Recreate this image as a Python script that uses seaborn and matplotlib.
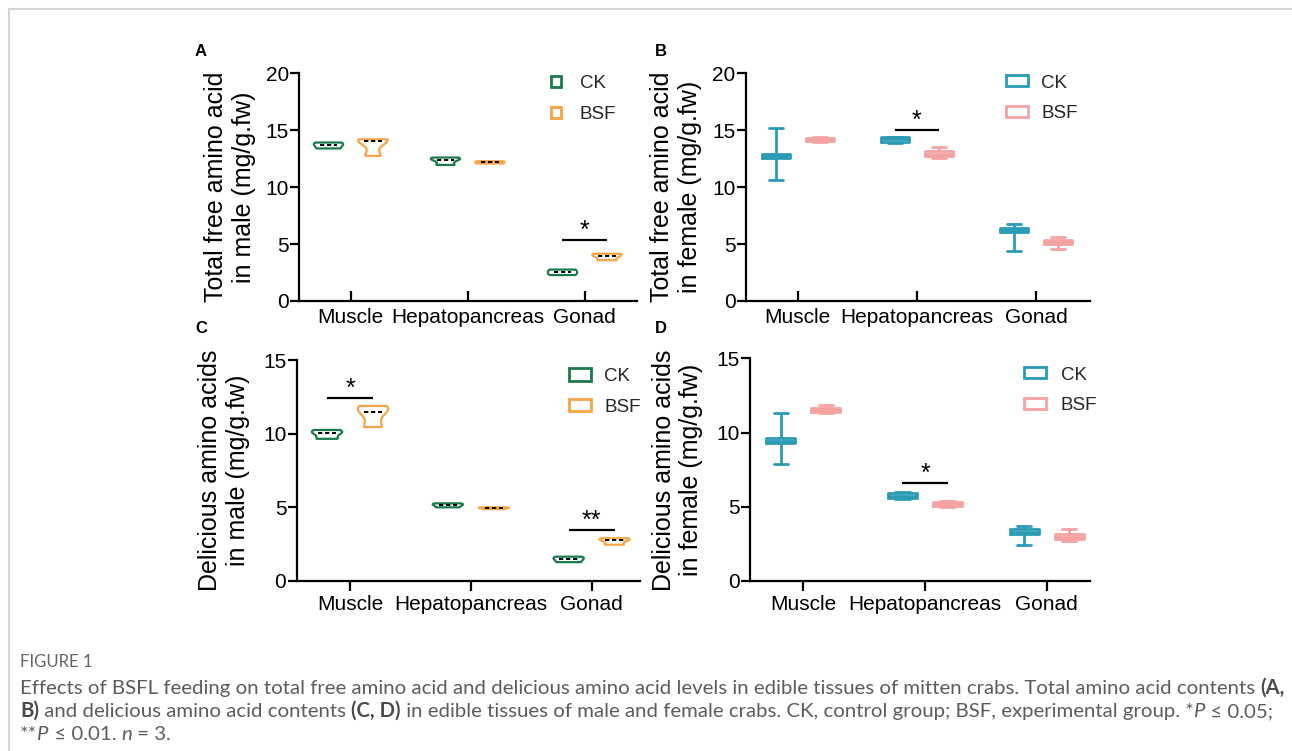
import numpy as np
import pandas as pd
import matplotlib
matplotlib.use("Agg")
import matplotlib.pyplot as plt
import seaborn as sns
from matplotlib.patches import Patch
from matplotlib.lines import Line2D

# ---------------- data ----------------
tissues = ["Muscle", "Hepatopancreas", "Gonad"]
groups = ["CK", "BSF"]

# A: total free amino acid, male (3 replicates per tissue)
male_total_ck = [[13.40, 13.68, 13.92], [11.95, 12.40, 12.60], [2.28, 2.52, 2.76]]
male_total_bsf = [[12.75, 14.05, 14.20], [12.08, 12.18, 12.28], [3.58, 3.95, 4.15]]

# C: delicious amino acids, male
male_del_ck = [[9.65, 10.02, 10.25], [5.00, 5.15, 5.27], [1.28, 1.48, 1.65]]
male_del_bsf = [[10.45, 11.50, 11.88], [4.88, 4.95, 5.00], [2.46, 2.76, 2.90]]

# B: total free amino acid, female (min, q1, median, q3, max)
female_total_ck = [[10.65, 12.58, 12.74, 12.92, 15.18],
                   [13.85, 14.00, 14.20, 14.38, 14.42],
                   [4.42, 6.04, 6.24, 6.44, 6.79]]
female_total_bsf = [[14.00, 14.05, 14.20, 14.36, 14.40],
                    [12.55, 12.72, 12.94, 13.16, 13.50],
                    [4.55, 5.02, 5.21, 5.40, 5.65]]

# D: delicious amino acids, female (min, q1, median, q3, max)
female_del_ck = [[7.86, 9.32, 9.45, 9.61, 11.30],
                 [5.52, 5.57, 5.75, 5.90, 5.97],
                 [2.40, 3.17, 3.32, 3.48, 3.70]]
female_del_bsf = [[11.30, 11.36, 11.52, 11.68, 11.83],
                  [5.01, 5.05, 5.21, 5.34, 5.39],
                  [2.69, 2.85, 2.99, 3.14, 3.48]]

# significance marks: (tissue index, bar height, label)
sig_A = [(2, 5.40, "*")]
sig_B = [(1, 15.00, "*")]
sig_C = [(0, 12.40, "*"), (2, 3.46, "**")]
sig_D = [(1, 6.62, "*")]

ylabels = {
    "A": "Total free amino acid\nin male (mg/g.fw)",
    "B": "Total free amino acid\nin female (mg/g.fw)",
    "C": "Delicious amino acids\nin male (mg/g.fw)",
    "D": "Delicious amino acids\nin female (mg/g.fw)",
}

pal_male = {"CK": "#1b7a4d", "BSF": "#f7a443"}
pal_female = {"CK": "#2a9bb5", "BSF": "#f4a2a2"}

# ---------------- style ----------------
sns.set_style("ticks")
plt.rcParams["font.family"] = ["Liberation Sans", "DejaVu Sans"]

W, H = 1292, 751
fig = plt.figure(figsize=(W / 100, H / 100), dpi=100)


def long_df(ck, bsf):
    rows = []
    for g, vals in zip(groups, [ck, bsf]):
        for t, reps in zip(tissues, vals):
            for v in reps:
                rows.append((t, g, v))
    return pd.DataFrame(rows, columns=["tissue", "group", "value"])


def add_ax(left, top, right, bottom, tick0, spacing):
    ax = fig.add_axes([left / W, 1 - bottom / H, (right - left) / W, (bottom - top) / H])
    return ax, ((left - tick0) / spacing, (right - tick0) / spacing)


def style_ax(ax, xlim, ymax, xdir, xpad):
    ax.set_xlim(*xlim)
    ax.set_ylim(0, ymax)
    ax.set_yticks(np.arange(0, ymax + 1, 5))
    ax.set_xlabel("")
    ax.set_ylabel("")
    for s in ["top", "right"]:
        ax.spines[s].set_visible(False)
    for s in ["left", "bottom"]:
        ax.spines[s].set_linewidth(1.6)
        ax.spines[s].set_color("black")
    ax.tick_params(axis="y", direction="out", length=6.5, width=1.6, labelsize=15,
                   pad=1, colors="black")
    ax.tick_params(axis="x", direction=xdir, length=7, width=1.6, labelsize=15,
                   pad=xpad, colors="black")
    ax.patch.set_alpha(0)


def add_sig(ax, marks, off):
    for i, y, lab in marks:
        ax.plot([i - off, i + off], [y, y], color="black", lw=1.6, solid_capstyle="butt")
        ax.annotate(lab, xy=(i, y), xytext=(0, 1.5), textcoords="offset points",
                    ha="center", va="baseline", fontsize=18, color="black")


def add_legend(ax, pal, x, y, hl, hh, pad):
    handles = [Patch(facecolor="white", edgecolor=pal[g], linewidth=2.0) for g in groups]
    ax.legend(handles, groups, loc="upper left", bbox_to_anchor=(x / W, 1 - y / H),
              bbox_transform=fig.transFigure, frameon=False, fontsize=13.5,
              handlelength=hl, handleheight=hh, handletextpad=pad,
              labelspacing=0.72, borderpad=0, borderaxespad=0)


def violin_panel(ax, df, pal):
    sns.violinplot(data=df, x="tissue", y="value", hue="group", order=tissues,
                   hue_order=groups, palette=pal, fill=False, inner=None, cut=0,
                   density_norm="width", width=0.76, gap=0.34, linewidth=1.6,
                   bw_adjust=0.7, legend=False, ax=ax)
    sns.boxplot(data=df, x="tissue", y="value", hue="group", order=tissues,
                hue_order=groups, palette=pal, width=0.76, gap=0.6, whis=0,
                showbox=False, showcaps=False, showfliers=False,
                medianprops=dict(color="black", linestyle=(0, (2.2, 1.4)), linewidth=1.4),
                whiskerprops=dict(visible=False), legend=False, ax=ax)


def box_panel(ax, df, pal):
    sns.boxplot(data=df, x="tissue", y="value", hue="group", order=tissues,
                hue_order=groups, palette=pal, fill=False, whis=(0, 100),
                width=0.74, gap=0.36, linewidth=2.0, showfliers=False,
                legend=False, ax=ax)


# ---------------- panels ----------------
axA, xlA = add_ax(299.3, 73.3, 636.7, 301.0, 350.7, 117.0)
violin_panel(axA, long_df(male_total_ck, male_total_bsf), pal_male)
style_ax(axA, xlA, 20, "in", 5)
add_sig(axA, sig_A, 0.19)
add_legend(axA, pal_male, 551, 75.5, 0.53, 0.53, 1.0)

axB, xlB = add_ax(746.0, 73.3, 1090.0, 301.0, 797.7, 119.2)
box_panel(axB, long_df(female_total_ck, female_total_bsf), pal_female)
style_ax(axB, xlB, 20, "in", 5)
add_sig(axB, sig_B, 0.185)
add_legend(axB, pal_female, 1006, 74.5, 1.17, 0.53, 0.7)

axC, xlC = add_ax(296.7, 360.0, 640.0, 581.0, 350.0, 120.8)
violin_panel(axC, long_df(male_del_ck, male_del_bsf), pal_male)
style_ax(axC, xlC, 15, "out", 3)
add_sig(axC, sig_C, 0.19)
add_legend(axC, pal_male, 569, 368.0, 1.17, 0.64, 0.7)

axD, xlD = add_ax(750.0, 358.3, 1090.0, 581.0, 803.3, 121.7)
box_panel(axD, long_df(female_del_ck, female_del_bsf), pal_female)
style_ax(axD, xlD, 15, "out", 3)
add_sig(axD, sig_D, 0.185)
add_legend(axD, pal_female, 1024, 366.5, 1.17, 0.53, 0.8)

# y labels
for key, (x, y) in {"A": (230, 187), "B": (676, 187), "C": (224, 470), "D": (677.5, 470)}.items():
    fig.text(x / W, 1 - y / H, ylabels[key], rotation=90, ha="center", va="center",
             multialignment="center", fontsize=18, linespacing=1.2, color="black")

# panel letters
for key, (x, y) in {"A": (201, 52), "B": (661, 51), "C": (201, 328), "D": (661, 328)}.items():
    fig.text(x / W, 1 - y / H, key, ha="center", va="center", fontsize=12,
             fontweight="bold", color="black")

# frame lines
fig.add_artist(Line2D([9 / W, 1], [1 - 9 / H, 1 - 9 / H], color="#d6d6d6", lw=1.5,
                      transform=fig.transFigure))
fig.add_artist(Line2D([9 / W, 9 / W], [0, 1 - 9 / H], color="#d6d6d6", lw=1.5,
                      transform=fig.transFigure))

# ---------------- caption ----------------
renderer = fig.canvas.get_renderer()
CAP_FONT = ["Lato", "DejaVu Sans"]
normal_c, bold_c = "#5c5c5c", "#4a4a4a"


def kw_for(kind, size):
    return dict(fontsize=size, family=CAP_FONT,
                color=bold_c if kind == "b" else normal_c,
                fontweight="bold" if kind == "b" else "normal",
                fontstyle="italic" if kind == "i" else "normal")


def measure(s, kw):
    t = fig.text(0, 0, s + "|", **kw)
    w1 = t.get_window_extent(renderer).width
    t.remove()
    t = fig.text(0, 0, "|", **kw)
    w2 = t.get_window_extent(renderer).width
    t.remove()
    return w1 - w2


def draw_line(x, y, parts, size):
    for s, kind in parts:
        kw = kw_for(kind, size)
        fig.text(x / W, 1 - y / H, s, ha="left", va="baseline", **kw)
        x += measure(s, kw)


line1 = [("Effects of BSFL feeding on total free amino acid and delicious amino acid levels "
          "in edible tissues of mitten crabs. Total amino acid contents ", "n"), ("(A,", "b")]
line2 = [("B)", "b"), (" and delicious amino acid contents ", "n"), ("(C, D)", "b"),
         (" in edible tissues of male and female crabs. CK, control group; BSF, "
          "experimental group. *", "n"), ("P", "i"), (" \u2264 0.05;", "n")]
line3 = [("**", "n"), ("P", "i"), (" \u2264 0.01. ", "n"), ("n", "i"), (" = 3.", "n")]

base = 11.0
w1 = sum(measure(s, kw_for(k, base)) for s, k in line1)
size = base * (1263.0 / w1)

fig.text(20 / W, 1 - 667 / H, "FIGURE 1", ha="left", va="baseline", fontsize=size * 0.82,
         family=CAP_FONT, color="#666666")
draw_line(20, 694, line1, size)
draw_line(20, 717, line2, size)
draw_line(20, 740, line3, size)

fig.savefig("out.png", dpi=100)
